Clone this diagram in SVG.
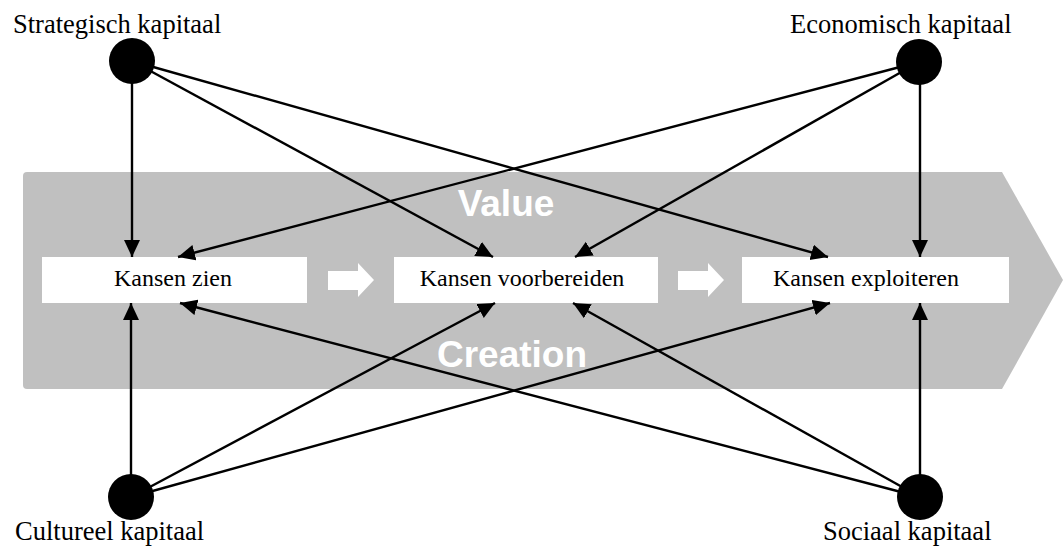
<svg xmlns="http://www.w3.org/2000/svg" width="1063" height="549" viewBox="0 0 1063 549">
<style>
.lbl{font-family:"Liberation Serif","Times New Roman",serif;font-size:26.5px;fill:#000}
.box{fill:#fff}
.boxt{font-family:"Liberation Serif","Times New Roman",serif;font-size:24px;fill:#000;text-anchor:middle}
.big{font-family:"Liberation Sans",Arial,sans-serif;font-weight:bold;font-size:37px;fill:#fff;text-anchor:middle}
.con line{stroke:#000;stroke-width:2.4;marker-end:url(#ah)}
.dot{fill:#000}
</style>
<defs>
<marker id="ah" markerUnits="userSpaceOnUse" markerWidth="19" markerHeight="17" refX="17" refY="8" orient="auto">
<path d="M0,0 L17,8 L0,16 z" fill="#000"/>
</marker>
</defs>
<rect width="1063" height="549" fill="#fff"/>
<g id="band">
<path d="M27,172 L1002,172 L1063,280 L1002,389 L27,389 Q23,389 23,385 L23,176 Q23,172 27,172 Z" fill="#c0c0c0"/>
<text class="big" x="506" y="216">Value</text>
<text class="big" x="512" y="367">Creation</text>
<path d="M328,271 L358,271 L358,263 L374,280 L358,297 L358,290 L328,290 Z" fill="#fff"/>
<path d="M678,271 L708,271 L708,263 L724,280 L708,297 L708,290 L678,290 Z" fill="#fff"/>
</g>
<g id="kansen-zien">
<rect class="box" x="42" y="257" width="265" height="46"/>
<text class="boxt" x="173" y="286">Kansen zien</text>
</g>
<g id="kansen-voorbereiden">
<rect class="box" x="394" y="257" width="264" height="46"/>
<text class="boxt" x="522" y="286">Kansen voorbereiden</text>
</g>
<g id="kansen-exploiteren">
<rect class="box" x="742" y="257" width="267" height="46"/>
<text class="boxt" x="866" y="286">Kansen exploiteren</text>
</g>
<g class="con" id="connectors">
<line x1="132" y1="61" x2="132" y2="257"/>
<line x1="132" y1="61" x2="493" y2="257"/>
<line x1="132" y1="61" x2="828" y2="257"/>
<line x1="919" y1="62" x2="178" y2="257"/>
<line x1="919" y1="62" x2="575" y2="257"/>
<line x1="920" y1="62" x2="920" y2="257"/>
<line x1="131" y1="497" x2="131" y2="303"/>
<line x1="131" y1="497" x2="495" y2="303"/>
<line x1="131" y1="497" x2="830" y2="303"/>
<line x1="920" y1="497" x2="180" y2="303"/>
<line x1="920" y1="497" x2="573" y2="303"/>
<line x1="920" y1="497" x2="920" y2="303"/>
</g>
<g id="strategisch">
<circle class="dot" cx="132" cy="61" r="23"/>
<text class="lbl" x="13" y="33">Strategisch kapitaal</text>
</g>
<g id="economisch">
<circle class="dot" cx="919" cy="62" r="23"/>
<text class="lbl" x="790" y="33">Economisch kapitaal</text>
</g>
<g id="cultureel">
<circle class="dot" cx="131" cy="497" r="23"/>
<text class="lbl" x="15" y="540">Cultureel kapitaal</text>
</g>
<g id="sociaal">
<circle class="dot" cx="920" cy="497" r="23"/>
<text class="lbl" x="823" y="540">Sociaal kapitaal</text>
</g>
</svg>
